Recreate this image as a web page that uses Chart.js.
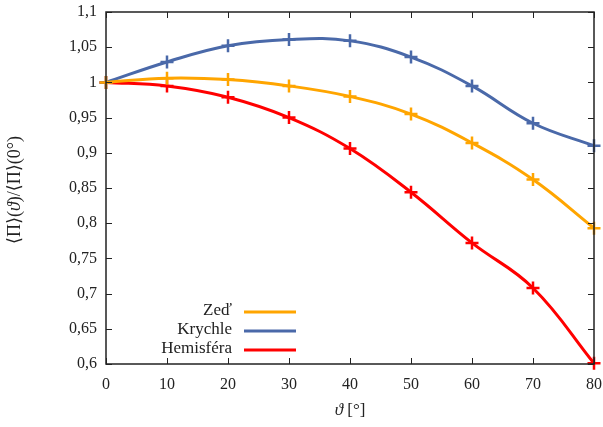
<!DOCTYPE html>
<html>
<head>
<meta charset="utf-8">
<script src="https://cdn.jsdelivr.net/npm/chart.js@4/dist/chart.umd.min.js"></script>
<style>
html,body{margin:0;padding:0;background:#fff;}
#wrap{width:603px;height:427px;position:relative;}
</style>
</head>
<body>
<div id="wrap"><canvas id="c" width="603" height="427"></canvas></div>
<script>
const angles = [0, 10, 20, 30, 40, 50, 60, 70, 80];
const zed = [1.000, 1.006, 1.004, 0.995, 0.980, 0.955, 0.914, 0.862, 0.793];
const krychle = [1.000, 1.029, 1.052, 1.061, 1.059, 1.036, 0.995, 0.942, 0.910];
const hemisfera = [1.000, 0.995, 0.979, 0.950, 0.906, 0.844, 0.772, 0.708, 0.601];
const yTicks = [0.6, 0.65, 0.7, 0.75, 0.8, 0.85, 0.9, 0.95, 1, 1.05, 1.1];
const xTicks = [0, 10, 20, 30, 40, 50, 60, 70, 80];
const seriesNames = ['Zeď', 'Krychle', 'Hemisféra'];
const colors = ['#ffa500', '#4a69a9', '#ff0000'];
// title pieces: [text, italic]
const xTitle = [['ϑ', true], [' [°]', false]];
const yTitle = [['⟨Π⟩(', false], ['ϑ', true], [')/⟨Π⟩(0°)', false]];

const FONT = '"Liberation Serif", "DejaVu Serif", serif';

function toPts(arr){ return angles.map((a,i)=>({x:a,y:arr[i]})); }
function ds(label, arr, color){
  return {label, data: toPts(arr), borderColor: color, backgroundColor: color,
    borderWidth: 3, tension: 0.4, pointStyle: 'cross', pointRadius: 6.5,
    pointBorderWidth: 2.5, pointHoverRadius: 6.5, clip: false, fill:false};
}

function drawPieces(ctx, pieces, cx, cy, size){
  const fonts = pieces.map(p => (p[1] ? 'italic ' : '') + size + 'px ' + FONT);
  let total = 0;
  const widths = pieces.map((p,i)=>{ ctx.font = fonts[i]; const w = ctx.measureText(p[0]).width; total += w; return w; });
  let x = cx - total/2;
  ctx.textAlign = 'left';
  pieces.forEach((p,i)=>{ ctx.font = fonts[i]; ctx.fillText(p[0], x, cy); x += widths[i]; });
}

const framePlugin = {
  id: 'frame',
  afterDraw(chart){
    const ctx = chart.ctx, a = chart.chartArea;
    const xs = chart.scales.x, ys = chart.scales.y;
    ctx.save();
    ctx.strokeStyle = '#222';
    ctx.lineWidth = 1.5;
    ctx.strokeRect(a.left, a.top, a.right - a.left, a.bottom - a.top);
    ctx.lineWidth = 1;
    ctx.beginPath();
    const tl = 6;
    xTicks.forEach(v=>{
      const p = Math.round(xs.getPixelForValue(v)) + 0.5;
      ctx.moveTo(p, a.bottom); ctx.lineTo(p, a.bottom - tl);
      ctx.moveTo(p, a.top); ctx.lineTo(p, a.top + tl);
    });
    yTicks.forEach(v=>{
      const p = Math.round(ys.getPixelForValue(v)) + 0.5;
      ctx.moveTo(a.left, p); ctx.lineTo(a.left + tl, p);
      ctx.moveTo(a.right, p); ctx.lineTo(a.right - tl, p);
    });
    ctx.stroke();
    // legend
    ctx.font = '17px ' + FONT;
    ctx.fillStyle = '#222';
    ctx.textAlign = 'right';
    ctx.textBaseline = 'middle';
    const ly = [311, 330, 349];
    seriesNames.forEach((n,i)=>{
      ctx.fillText(n, 232, ly[i]);
      ctx.strokeStyle = colors[i];
      ctx.lineWidth = 3;
      ctx.beginPath();
      ctx.moveTo(244, ly[i]+1); ctx.lineTo(296, ly[i]+1);
      ctx.stroke();
    });
    // axis titles
    ctx.fillStyle = '#222';
    drawPieces(ctx, xTitle, (a.left + a.right)/2, 411, 17);
    ctx.translate(15, 190);
    ctx.rotate(-Math.PI/2);
    drawPieces(ctx, yTitle, 0, 0, 18);
    ctx.restore();
  }
};

new Chart(document.getElementById('c'), {
  type: 'line',
  data: { datasets: [ds(seriesNames[0], zed, colors[0]), ds(seriesNames[1], krychle, colors[1]), ds(seriesNames[2], hemisfera, colors[2])] },
  options: {
    responsive: false, animation: false, devicePixelRatio: 1,
    layout: { padding: { top: 12, right: 9, left: 0, bottom: 0 } },
    plugins: { legend: { display: false }, tooltip: { enabled: false } },
    scales: {
      x: {
        type: 'linear', min: 0, max: 80,
        afterBuildTicks(s){ s.ticks = xTicks.map(v=>({value:v})); },
        afterFit(s){ s.height = 63; s.paddingLeft = 0; s.paddingRight = 0; },
        grid: { display: false, drawTicks: false },
        border: { display: false },
        ticks: { color: '#222', font: { family: FONT, size: 16 }, padding: 11, maxRotation: 0, autoSkip: false, callback: v => String(v) }
      },
      y: {
        type: 'linear', min: 0.6, max: 1.1,
        afterBuildTicks(s){ s.ticks = yTicks.map(v=>({value:v})); },
        afterFit(s){ s.width = 106; s.paddingTop = 0; s.paddingBottom = 0; },
        grid: { display: false, drawTicks: false },
        border: { display: false },
        ticks: { color: '#222', font: { family: FONT, size: 16 }, padding: 9, autoSkip: false,
          callback: v => String(Math.round(v*100)/100).replace('.', ',') }
      }
    }
  },
  plugins: [framePlugin]
});
</script>
</body>
</html>
